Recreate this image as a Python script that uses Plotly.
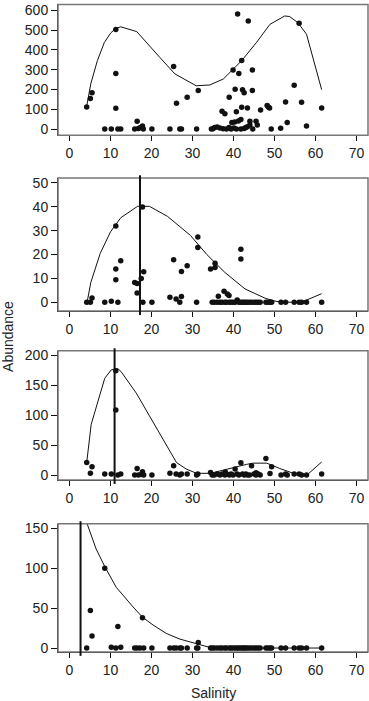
import plotly.graph_objects as go

# ---------------- data ----------------
# Panel 1
p1_sal = [4.2, 5.1, 5.5, 8.6, 10.2, 11.3, 11.3, 11.3, 11.8, 12.5, 15.9, 16.5, 16.8, 17.3, 17.8, 18.0, 20.1,
          24.5, 25.4, 26.1, 26.9, 27.3, 28.7, 31.0, 31.4, 34.6, 35.0, 35.4, 36.0, 36.7, 37.2, 37.5, 37.9,
          38.3, 38.9, 38.95, 39.4, 39.6, 39.9, 40.1, 40.3, 40.4, 40.7, 40.7, 41.0, 41.2, 41.3, 41.8, 41.8,
          42.0, 42.0, 42.2, 42.6, 42.6, 43.0, 43.4, 43.4, 43.6, 44.0, 44.0, 44.6, 44.6, 44.7, 45.5, 45.8,
          46.6, 48.2, 48.5, 48.8, 49.2, 51.5, 52.7, 53.1, 54.8, 56.0, 56.6, 57.8, 61.5]
p1_abund = [112, 154, 184, 0, 0, 503, 281, 105, 0, 0, 0, 40, 3, 8, 15, 0, 0,
            0, 317, 131, 0, 0, 161, 0, 195, 0, 2, 8, 10, 5, 90, 2, 78,
            0, 8, 161, 0, 33, 299, 5, 36, 202, 87, 0, 582, 41, 281, 48, 0,
            347, 110, 199, 184, 3, 8, 106, 12, 546, 40, 20, 299, 195, 0, 40, 20,
            97, 119, 112, 107, 0, 4, 137, 33, 221, 535, 136, 15, 107]
c1_sal = [4.2, 5.2, 6.8, 8.5, 10.1, 11.3, 12.5, 16.4, 22.0, 25.7, 30.9, 34.2, 37.5, 39.8, 42.0, 45.6,
          48.9, 52.5, 53.7, 55.7, 57.8, 61.5]
c1_fit = [115, 229, 346, 438, 487, 509, 517, 493, 363, 279, 219, 223, 253, 301, 346, 438,
          530, 572, 569, 538, 480, 199]

# Panel 2
p2_sal = [4.2, 5.1, 5.5, 8.6, 10.2, 11.3, 11.3, 11.3, 11.8, 12.5, 15.9, 16.5, 16.5, 17.5, 17.8, 18.1, 17.9,
          20.1, 24.5, 25.4, 26.0, 26.9, 27.3, 27.3, 28.7, 31.0, 31.3, 31.3, 34.4, 35.5, 35.5, 36.3, 37.7,
          38.5, 38.9, 40.9, 41.8, 41.8,
          34.8, 35.3, 36.0, 36.7, 37.2, 37.9, 38.3, 39.0, 39.4, 39.9, 40.4, 41.3, 41.8, 42.2, 42.6, 43.0,
          43.4, 43.9, 44.4, 45.0, 45.5, 46.0, 46.5, 47.9, 48.4, 48.9, 49.3, 51.6, 52.7, 54.8, 56.0, 56.6,
          57.8, 61.5]
p2_abund = [0, 0, 1.8, 0, 0.4, 32, 13.9, 9.4, 0, 17.4, 8.3, 7.9, 3.9, 10, 39.9, 12.8, 0,
            0, 2.1, 17.8, 1.4, 0, 2.4, 12.9, 15.3, 0, 27.4, 22.9, 13.9, 14.6, 16.3, 2.5, 4.6,
            3.5, 2.8, 1.0, 22.2, 18.1,
            0, 0, 0, 0, 0, 0, 0, 0, 0, 0, 0, 0, 0, 0, 0, 0,
            0, 0, 0, 0, 0, 0, 0, 0, 0, 0, 0, 0, 0, 0, 0, 0,
            0, 0]
c2_sal = [4.3, 5.2, 7.5, 10.0, 12.5, 16.6, 19.5, 23.9, 29.5, 33.5, 37.9, 42.8, 47.7, 50.6, 54.2, 57.5, 61.5]
c2_fit = [0, 8.3, 20.5, 29.5, 35.4, 40.2, 40.2, 36.0, 28.0, 20.0, 12.5, 5.6, 1.7, 0.3, 0, 0.7, 3.6]
v2_sal = 17.2

# Panel 3
p3_sal = [4.2, 5.1, 5.5, 8.6, 10.2, 11.3, 11.3, 11.8, 12.5, 15.9, 16.5, 16.8, 17.5, 17.8, 18.1, 20.1,
          24.5, 25.4, 26.0, 26.9, 27.3, 28.7, 31.0, 31.3, 34.4, 34.8, 35.3, 36.0, 36.7, 37.2, 37.9, 38.3,
          39.0, 39.4, 39.9, 40.4, 40.9, 41.3, 41.8, 42.2, 42.6, 43.0, 43.4, 43.9, 44.4, 45.0, 45.5, 46.0,
          46.5, 47.9, 48.9, 49.3, 51.6, 52.7, 53.1, 54.8, 56.0, 56.6, 57.8, 61.5, 38.0, 45.5]
p3_abund = [21, 3.3, 13.9, 1.7, 1.7, 174.5, 109, 0, 1.7, 0, 11, 0, 1, 5.5, 0, 0,
            3.3, 15.5, 1.7, 0, 1.7, 1.7, 0, 2, 4.4, 0, 0, 1.7, 0, 2, 0, 1.7,
            0, 1.7, 0, 10, 1.7, 0, 20.5, 1.7, 0, 1.7, 0, 0, 15.5, 1.7, 0, 1.7,
            0, 27.7, 2.8, 13.9, 0, 1.7, 0, 1.7, 1.7, 0, 0, 1.7, 5, 4]
c3_sal = [4.2, 5.3, 8.6, 10.2, 11.8, 12.6, 16.3, 20.4, 23.6, 26.1, 28.5, 31.0, 34.4, 39.9, 43.2, 44.8,
          48.1, 51.3, 54.6, 57.9, 61.5]
c3_fit = [21, 85, 162, 176, 178, 173, 137, 88, 49, 21, 10, 3, 3, 13, 18, 20,
          20, 11, 3, 0, 22]
v3_sal = 11.0

# Panel 4
p4_sal = [4.2, 5.1, 5.5, 8.6, 10.2, 11.3, 11.8, 12.5, 15.9, 16.5, 17.2, 17.8, 18.1, 20.1, 24.5, 25.4,
          26.0, 26.9, 27.3, 28.7, 31.0, 31.3, 31.4, 34.4, 34.8, 35.3, 36.0, 36.7, 37.2, 37.9, 38.3, 39.0,
          39.4, 39.9, 40.4, 40.9, 41.3, 41.8, 42.2, 42.6, 43.0, 43.4, 43.9, 44.4, 45.0, 45.5, 46.0, 46.5,
          47.9, 48.4, 48.9, 49.3, 51.6, 52.7, 54.8, 56.0, 56.6, 57.8, 61.5]
p4_abund = [0, 47, 15, 100, 1, 0, 27, 1, 0, 0, 0, 38, 0, 0, 0, 0,
            0, 0, 0, 0, 0, 0, 7, 0, 0, 0, 0, 0, 0, 0, 0, 0,
            0, 0, 0, 0, 0, 0, 0, 0, 0, 0, 0, 0, 0, 0, 0, 0,
            0, 0, 0, 0, 0, 0, 0, 0, 0, 0, 0]
c4_sal = [4.2, 6.5, 8.6, 11.4, 15.5, 17.8, 20.4, 23.6, 26.9, 31.0, 34.2, 35.9, 40.0, 45.0, 50.0, 55.0, 61.5]
c4_fit = [157, 124, 102, 76, 51.5, 38.6, 28.7, 18.3, 11.2, 5, 0.8, 0, 0, 0, 0, 0, 0]
v4_sal = 2.7

x_ticks = [0, 10, 20, 30, 40, 50, 60, 70]
y_ticks = [[0, 100, 200, 300, 400, 500, 600], [0, 10, 20, 30, 40, 50], [0, 50, 100, 150, 200], [0, 50, 100, 150]]
y_ranges = [[-31, 630], [-3.7, 52.1], [-8.3, 207.8], [-5, 155.5]]

# ---------------- figure ----------------
H = 701
ML, MR, MT, MB = 58, 1, 0, 48
PH = H - MT - MB
panel_px = [(0.5, 132), (175, 309), (349, 479), (523, 652)]
domains = [[(PH - b) / PH, min(1.0, (PH - t) / PH)] for t, b in panel_px]

points = [(p1_sal, p1_abund), (p2_sal, p2_abund), (p3_sal, p3_abund), (p4_sal, p4_abund)]
curves = [(c1_sal, c1_fit), (c2_sal, c2_fit), (c3_sal, c3_fit), (c4_sal, c4_fit)]
vlines = [None, v2_sal, v3_sal, v4_sal]

FONT = "Liberation Sans, Arial, Helvetica, sans-serif"
FS = 14
fig = go.Figure()
layout = dict(
    width=369, height=H, margin=dict(l=ML, r=MR, t=MT, b=MB),
    paper_bgcolor="white", plot_bgcolor="white", showlegend=False,
    font=dict(family=FONT, size=FS, color="#222"),
)
shapes = []
for i in range(4):
    n = "" if i == 0 else str(i + 1)
    xs, ys = curves[i]
    fig.add_trace(go.Scatter(x=xs, y=ys, mode="lines", line=dict(color="#111", width=1),
                             xaxis="x" + n, yaxis="y" + n, hoverinfo="skip"))
    px_, py_ = points[i]
    fig.add_trace(go.Scatter(x=px_, y=py_, mode="markers",
                             marker=dict(color="#111", size=5.5, line=dict(width=0)),
                             xaxis="x" + n, yaxis="y" + n, cliponaxis=False))
    layout["xaxis" + n] = dict(domain=[0, 1], anchor="y" + n, range=[-2.8, 72.8], tickvals=x_ticks,
                               ticks="outside", ticklen=5, tickcolor="#111", showline=True,
                               linecolor="#111", linewidth=1, showgrid=False, zeroline=False,
                               tickfont=dict(size=FS, color="#222"))
    layout["yaxis" + n] = dict(domain=domains[i], anchor="x" + n, range=y_ranges[i], tickvals=y_ticks[i],
                               ticks="outside", ticklen=6, tickcolor="#111", showline=True,
                               linecolor="#111", linewidth=1, showgrid=False, zeroline=False,
                               tickfont=dict(size=FS, color="#222"))
    shapes.append(dict(type="rect", xref="x" + n + " domain", yref="y" + n + " domain",
                       x0=0, x1=1, y0=0, y1=1, line=dict(color="#777", width=1.5), layer="above"))
    if vlines[i] is not None:
        shapes.append(dict(type="line", xref="x" + n, yref="y" + n + " domain",
                           x0=vlines[i], x1=vlines[i], y0=-0.03, y1=1.02,
                           line=dict(color="#111", width=2)))

layout["shapes"] = shapes
layout["annotations"] = [
    dict(text="Abundance", xref="paper", yref="paper", x=0, y=(PH - 335) / PH, xshift=-50,
         textangle=-90, showarrow=False, xanchor="center", yanchor="middle",
         font=dict(size=FS, color="#222")),
    dict(text="Salinity", xref="paper", yref="paper", x=0.5, y=0, yshift=-40,
         showarrow=False, xanchor="center", yanchor="middle", font=dict(size=FS, color="#222")),
]
fig.update_layout(**layout)
fig.write_html("out.html", config={"displayModeBar": False},
               post_script="document.body.style.margin='0';document.body.style.padding='0';")
